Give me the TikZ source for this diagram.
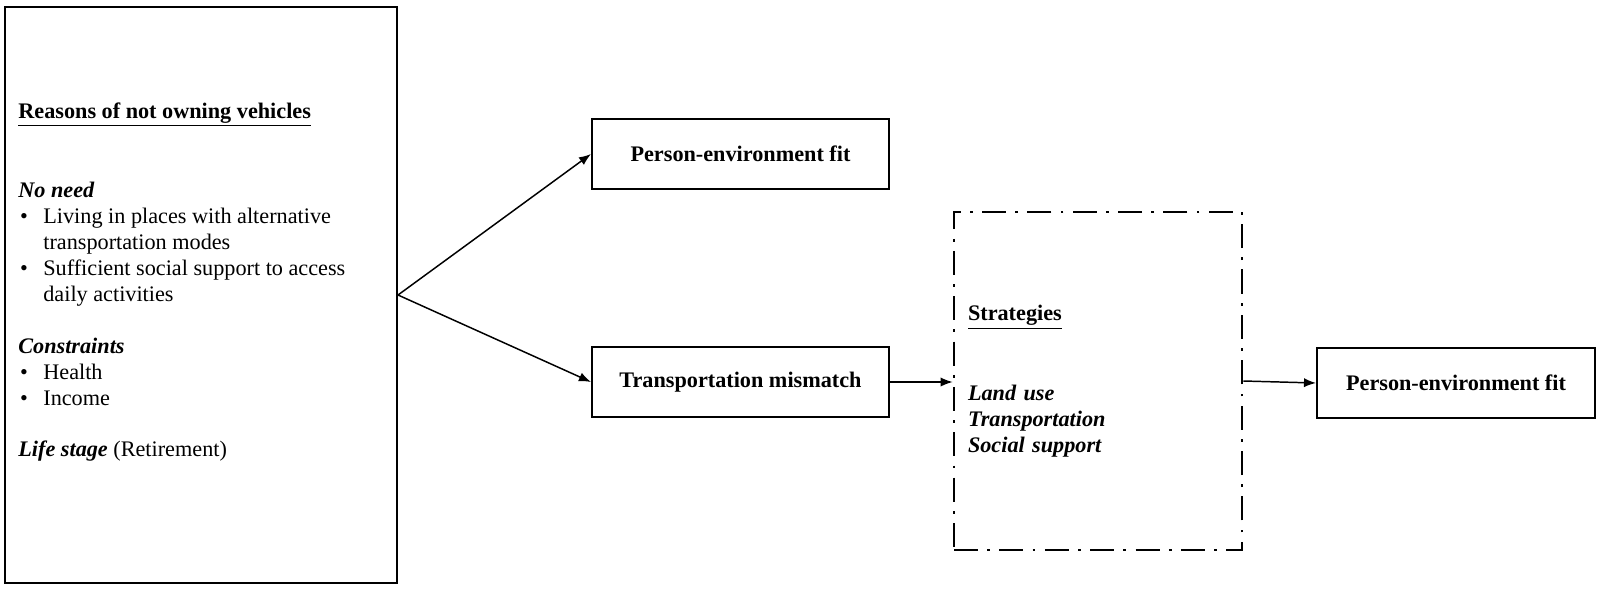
\documentclass[tikz,border=0pt]{standalone}
\usepackage{fontspec}
\setmainfont{Liberation Serif}
\usetikzlibrary{positioning}
\usetikzlibrary{arrows.meta}
\newcommand{\pxu}{0.54pt}
\newcommand{\itembul}{\makebox[13.5pt][l]{\hspace{1pt}\textbullet}}
\newcommand{\itemgap}{\hspace*{13.5pt}}
\begin{document}
\begin{tikzpicture}[x=\pxu, y=-\pxu, font=\fontsize{12}{14}\selectfont,
  box/.style={draw, line width=1.1pt, inner sep=0pt},
  strat/.style={draw, line width=1.4pt, dash pattern=on 13pt off 5pt on 1.5pt off 5pt},
  arr/.style={-{Latex[length=6.5pt,width=5pt]}, line width=0.8pt}]
\useasboundingbox (0,0) rectangle (1600,588);
% reasons
\node[box, minimum width=392*\pxu, minimum height=576*\pxu] (reasons) at (201,295) {};
\node[anchor=north west, inner sep=0pt, align=left] (reasonstext) at (18,102) {%
  \underline{\textbf{Reasons of not owning vehicles}}\\[29pt]
  \textbf{\textit{No need}}\\
  \itembul Living in places with alternative\\
  \itemgap transportation modes\\
  \itembul Sufficient social support to access\\
  \itemgap daily activities\\[14pt]
  \textbf{\textit{Constraints}}\\
  \itembul Health\\
  \itembul Income\\[14pt]
  \textbf{\textit{Life stage}} (Retirement)};
% outcomes
\node[box, minimum width=297*\pxu, minimum height=70*\pxu, font=\fontsize{12}{14}\selectfont\bfseries] (fit1) at (740.5,154) {Person-environment fit};
\node[box, minimum width=297*\pxu, minimum height=70*\pxu, font=\fontsize{12}{14}\selectfont\bfseries] (mismatch) at (740.5,382) {Transportation mismatch};
% strategies
\node[strat, minimum width=288*\pxu, minimum height=338*\pxu, text width=260*\pxu, inner xsep=14*\pxu, align=left] (strategies) at (1098,381) {%
  \underline{\textbf{Strategies}}\\[29pt]
  \textbf{\textit{Land use}}\\
  \textbf{\textit{Transportation}}\\
  \textbf{\textit{Social support}}};
\node[box, minimum width=278*\pxu, minimum height=70*\pxu, font=\fontsize{12}{14}\selectfont\bfseries] (fit2) at (1456,383) {Person-environment fit};
% arrows
\draw[arr] (reasons.east) -- (fit1.west);
\draw[arr] (reasons.east) -- (mismatch.west);
\draw[arr] (mismatch.east) -- (mismatch.east -| strategies.west);
\draw[arr] (strategies.east) -- (fit2.west);
\end{tikzpicture}
\end{document}
